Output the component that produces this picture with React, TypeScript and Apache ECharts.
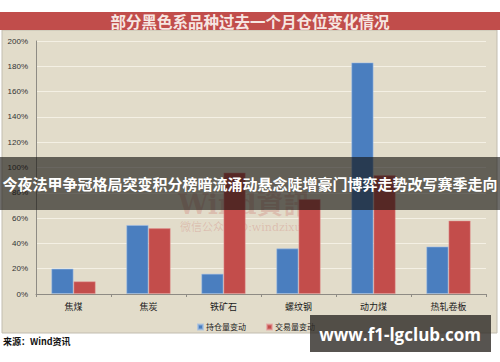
import React, { useEffect, useRef } from "react";
import * as echarts from "echarts";

const categories = ["焦煤", "焦炭", "铁矿石", "螺纹钢", "动力煤", "热轧卷板"];
const holdingChange = [20, 54.5, 16, 36, 183, 37.5];
const volumeChange = [10, 52, 96, 75, 94, 58];
const seriesNames = ["持仓量变动", "交易量变动"];
const titleText = "部分黑色系品种过去一个月仓位变化情况";
const sourceText = "来源：Wind资讯";
const overlayText = "今夜法甲争冠格局突变积分榜暗流涌动悬念陡增豪门博弈走势改写赛季走向";
const siteText = "www.f1-lgclub.com";

export default function App() {
  const ref = useRef<HTMLDivElement>(null);
  useEffect(() => {
    if (!ref.current) return;
    const chart = echarts.init(ref.current, undefined, { renderer: "svg" });
    chart.setOption({
      animation: false,
      backgroundColor: "#FFFFFF",
      grid: { left: 36, right: 14, top: 41, bottom: 68 },
      legend: {
        data: seriesNames,
        left: 192,
        top: 318,
        icon: "rect",
        itemWidth: 5,
        itemHeight: 5,
        itemGap: 20,
        textStyle: { fontSize: 8, color: "#222", fontFamily: "Noto Sans CJK SC", padding: [0, 0, 0, -2] },
      },
      xAxis: {
        type: "category",
        data: categories,
        axisLine: { lineStyle: { color: "#8E8B84" } },
        axisTick: { show: true, length: 3, lineStyle: { color: "#8E8B84" } },
        axisLabel: { fontSize: 9, color: "#1A1A1A", margin: 8, fontFamily: "Noto Sans CJK SC" },
      },
      yAxis: {
        type: "value",
        min: 0,
        max: 200,
        interval: 20,
        axisLine: { show: true, lineStyle: { color: "#8E8B84" } },
        axisTick: { show: false },
        axisLabel: { formatter: "{value}%", fontSize: 8, color: "#333", margin: 8, fontFamily: "Liberation Sans" },
        splitLine: { lineStyle: { color: "#F4F0E4", width: 1 } },
      },
      series: [
        {
          name: seriesNames[0],
          type: "bar",
          data: holdingChange,
          barGap: "0%",
          barCategoryGap: "41%",
          itemStyle: { color: "#4A7EBF", borderColor: "rgba(160,190,230,0.7)", borderWidth: 0.8 },
          z: 2,
        },
        {
          name: seriesNames[1],
          type: "bar",
          data: volumeChange,
          itemStyle: { color: "#C34D4B", borderColor: "rgba(230,150,150,0.6)", borderWidth: 0.8 },
          z: 2,
        },
      ],
      graphic: [
        { type: "rect", z: -10, shape: { x: 2, y: 30, width: 495, height: 303 }, style: { fill: "#E2DCCA", stroke: "#C2BDB0", lineWidth: 1 } },
        { type: "rect", z: -9, shape: { x: 0, y: 12, width: 500, height: 18 }, style: { fill: "#C14D4B" } },
        { type: "text", z: -8, x: 250, y: 21, style: { text: titleText, fill: "#F6E6E2", font: "bold 15.5px 'Noto Sans CJK SC'", align: "center", verticalAlign: "middle" } },
        { type: "text", z: 1, x: 178, y: 191, style: { text: "Wind資訊", fill: "rgba(195,80,75,0.22)", font: "bold 27px 'DejaVu Serif', 'Noto Sans CJK TC'", align: "left", verticalAlign: "top" } },
        { type: "text", z: 1, x: 180, y: 222, style: { text: "微信公众号ID:windzixun", fill: "rgba(195,80,75,0.22)", font: "11px 'DejaVu Serif', 'Noto Sans CJK SC'", align: "left", verticalAlign: "top" } },
        { type: "text", z: 5, x: 3, y: 341, style: { text: sourceText, fill: "#111", font: "bold 9px 'Noto Sans CJK SC'", align: "left", verticalAlign: "middle" } },
        { type: "rect", z: 50, shape: { x: 0, y: 157, width: 500, height: 53 }, style: { fill: "rgba(20,18,14,0.62)" } },
        { type: "text", z: 51, x: 250, y: 183, style: { text: overlayText, fill: "#FFFFFF", font: "bold 15px 'Noto Sans CJK SC'", align: "center", verticalAlign: "middle" } },
        { type: "rect", z: 50, shape: { x: 310, y: 315, width: 181, height: 37 }, style: { fill: "rgba(50,46,42,0.82)" } },
        { type: "text", z: 51, x: 400, y: 334, style: { text: siteText, fill: "#FFFFFF", font: "bold 17px 'Open Sans'", align: "center", verticalAlign: "middle" } },
      ],
    });
    return () => chart.dispose();
  }, []);
  return <div ref={ref} style={{ position: "absolute", left: 0, top: 0, width: 500, height: 362 }} />;
}
